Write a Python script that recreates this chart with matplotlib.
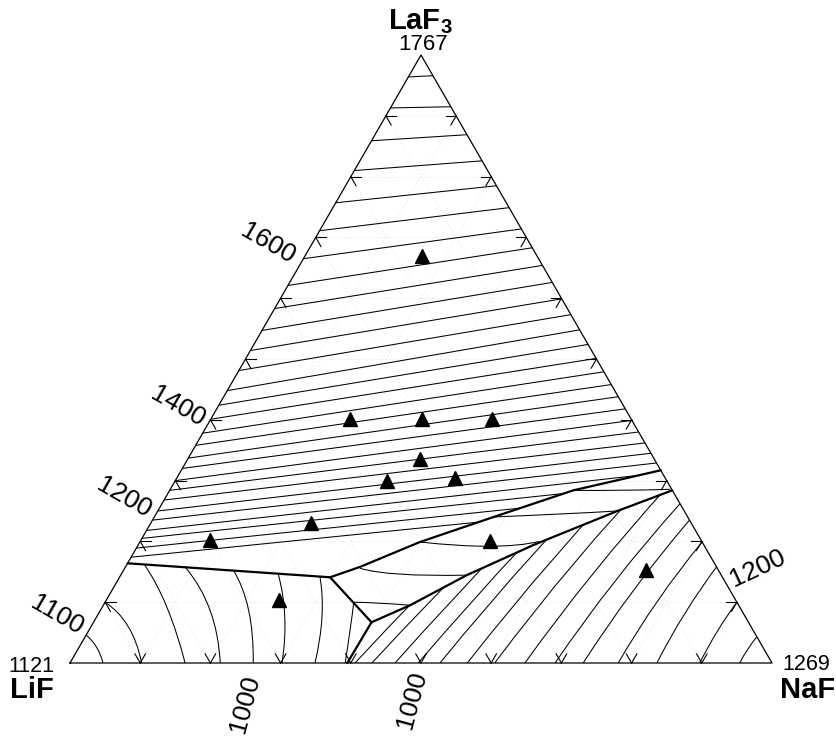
import numpy as np
import matplotlib
matplotlib.use('Agg')
import matplotlib.pyplot as plt
from matplotlib.patches import Polygon, PathPatch
from matplotlib.path import Path

plt.rcParams['font.family'] = ['Liberation Sans', 'DejaVu Sans']
plt.rcParams['mathtext.fontset'] = 'custom'
plt.rcParams['mathtext.bf'] = 'Liberation Sans:bold'
plt.rcParams['mathtext.rm'] = 'Liberation Sans'

S3 = np.sqrt(3) / 2

# all compositions are (x_NaF, x_LaF3), x_LiF = 1 - both
corners = ['LiF', 'NaF', 'LaF$_3$']
corner_temps = [1121, 1269, 1767]

# univariant lines
lif_laf3_line = [(0.0, 0.164), (0.300, 0.141)]
upper_line = [(0.300, 0.141), (0.334, 0.158), (0.399, 0.199), (0.483, 0.240),
              (0.575, 0.284), (0.683, 0.317)]
lif_mid_line = [(0.300, 0.141), (0.396, 0.067)]
lower_line = [(0.396, 0.067), (0.437, 0.095), (0.493, 0.1445), (0.563, 0.194),
              (0.654, 0.2496), (0.716, 0.284)]
lif_naf_line = [(0.396, 0.067), (0.395, 0.0)]

# LaF3 field isotherms: x_LaF3 where each meets the LiF-LaF3 and NaF-LaF3 edges
laf3_left = [0.964, 0.913, 0.859, 0.810, 0.757, 0.711, 0.665, 0.621, 0.583, 0.547,
             0.514, 0.481, 0.448, 0.424, 0.401, 0.378, 0.358, 0.337, 0.320, 0.300,
             0.284, 0.268, 0.250, 0.235, 0.218, 0.205, 0.189, 0.174]
laf3_right = [0.966, 0.915, 0.869, 0.826, 0.785, 0.749, 0.714, 0.683, 0.654, 0.626,
              0.599, 0.573, 0.548, 0.524, 0.501, 0.479, 0.458, 0.438, 0.418, 0.399,
              0.380, 0.362, 0.345, 0.329, 0.313, 0.297, 0.281, 0.265]

# LiF field isotherms: start, middle, end
lif_iso = [
    [(0.0, 0.046), (0.025, 0.026), (0.047, 0.0)],
    [(0.0, 0.100), (0.053, 0.060), (0.102, 0.0)],
    [(0.026, 0.161), (0.092, 0.092), (0.164, 0.0)],
    [(0.085, 0.158), (0.156, 0.087), (0.214, 0.0)],
    [(0.156, 0.153), (0.211, 0.087), (0.261, 0.0)],
    [(0.223, 0.147), (0.268, 0.076), (0.302, 0.0)],
    [(0.285, 0.142), (0.321, 0.076), (0.349, 0.0)],
    [(0.355, 0.098), (0.372, 0.054), (0.392, 0.0)],
]

# middle field isotherms: start, middle, end
mid_iso = [
    [(0.353, 0.100), (0.392, 0.0985), (0.437, 0.095)],
    [(0.335, 0.156), (0.397, 0.146), (0.493, 0.1445)],
    [(0.399, 0.199), (0.502, 0.192), (0.569, 0.200)],
    [(0.478, 0.240), (0.576, 0.245), (0.654, 0.250)],
    [(0.5745, 0.284), (0.6415, 0.284), (0.712, 0.2857)],
]

# NaF field isotherms: x_NaF on the LiF-NaF edge, a middle point, x_LaF3 on the NaF-LaF3 edge
naf_base = [0.954, 0.897, 0.836, 0.781, 0.731, 0.691, 0.648, 0.605, 0.566, 0.527,
            0.496, 0.463, 0.430, 0.406]
naf_mid = [(0.954, 0.023), (0.896, 0.053), (0.835, 0.082), (0.786, 0.103),
           (0.743, 0.121), (0.709, 0.135), (0.672, 0.150), (0.636, 0.165),
           (0.604, 0.177), (0.573, 0.189), (0.550, 0.197), (0.525, 0.205),
           (0.501, 0.213), (0.480, 0.221)]
naf_right = [0.043, 0.100, 0.158, 0.199, 0.235, 0.262, 0.293, 0.321, 0.346, 0.369,
             0.385, 0.402, 0.417, 0.434]

# experimental points
pts_naf = [0.167, 0.198, 0.300, 0.400, 0.331, 0.301, 0.396, 0.228, 0.098, 0.498, 0.744, 0.246]
pts_laf3 = [0.670, 0.402, 0.402, 0.402, 0.335, 0.300, 0.304, 0.231, 0.202, 0.200, 0.153, 0.103]


def cart(pts):
    p = np.asarray(pts, dtype=float)
    return np.column_stack([p[:, 0] + 0.5 * p[:, 1], S3 * p[:, 1]])


fig = plt.figure(figsize=(8.37, 7.36), dpi=100)
ax = fig.add_axes([0, 0, 1, 1])
ax.set_xlim(-70 / 702, 767 / 702)
ax.set_ylim(-73 / 702, 663 / 702)
ax.axis('off')

# faint grid
for k in range(1, 10):
    v = k / 10
    for seg in ([(0, v), (1 - v, v)], [(v, 0), (v, 1 - v)], [(1 - v, 0), (0, 1 - v)]):
        c = cart(seg)
        ax.plot(c[:, 0], c[:, 1], color='#eeeeee', lw=0.7, ls=(0, (2, 2)), zorder=0)

# fields for clipping
laf3_field = [(0.0, 1.0), (0.0, 0.164)] + upper_line
lif_field = [(0.0, 0.0), (0.0, 0.164), (0.300, 0.141), (0.396, 0.067), (0.395, 0.0)]
mid_field = upper_line + lower_line[::-1]
naf_field = [(0.395, 0.0)] + lower_line + [(1.0, 0.0)]


def clip_patch(pts):
    return Polygon(cart(pts), closed=True, transform=ax.transData)


laf3_clip = clip_patch(laf3_field)
lif_clip = clip_patch(lif_field)
mid_clip = clip_patch(mid_field)
naf_clip = clip_patch(naf_field)

iso_kw = dict(color='black', lw=0.75, zorder=2)

for a, b in zip(laf3_left, laf3_right):
    c = cart([(0.0, a), (1.0 - b, b)])
    ln, = ax.plot(c[:, 0], c[:, 1], **iso_kw)
    ln.set_clip_path(laf3_clip)


def curve(p3, clip):
    c = cart(p3)
    ctrl = 2 * c[1] - 0.5 * (c[0] + c[2])
    path = Path([c[0], ctrl, c[2]], [Path.MOVETO, Path.CURVE3, Path.CURVE3])
    pp = PathPatch(path, fill=False, ec='black', lw=0.75, zorder=2)
    ax.add_patch(pp)
    pp.set_clip_path(clip)


for p3 in lif_iso:
    curve(p3, lif_clip)
for p3 in mid_iso:
    curve(p3, mid_clip)
for a, m, b in zip(naf_base, naf_mid, naf_right):
    curve([(a, 0.0), m, (1.0 - b, b)], naf_clip)

# univariant lines
for line in (lif_laf3_line, upper_line, lif_mid_line, lower_line, lif_naf_line):
    c = cart(line)
    ax.plot(c[:, 0], c[:, 1], color='black', lw=1.6, zorder=3, solid_capstyle='round')

# triangle outline
tri = cart([(0, 0), (1, 0), (0, 1), (0, 0)])
ax.plot(tri[:, 0], tri[:, 1], color='black', lw=0.9, zorder=3)

# ticks
d = 0.015
for k in range(1, 10):
    v = k / 10
    for seg in ([(0, v), (d, v)], [(0, v), (d, v - d)],
                [(1 - v, v), (1 - v - d, v)], [(1 - v, v), (1 - v, v - d)],
                [(v, 0), (v, d)], [(v, 0), (v - d, d)]):
        c = cart(seg)
        ax.plot(c[:, 0], c[:, 1], color='black', lw=0.8, zorder=3)

# experimental points
pc = cart(list(zip(pts_naf, pts_laf3)))
ax.plot(pc[:, 0], pc[:, 1], ls='none', marker='^', ms=10, color='black', zorder=5)


# labels (pixel positions of the picture)
def ftext(px, py, s, **kw):
    fig.text(px / 837, 1 - py / 736, s, ha='center', va='center', **kw)


ftext(420, 22, r'$\mathbf{LaF_3}$', fontsize=21)
ftext(423, 45, str(corner_temps[2]), fontsize=16)
ftext(31, 666, str(corner_temps[0]), fontsize=15.5)
ftext(32, 690, corners[0], fontsize=21, fontweight='bold')
ftext(806, 665, str(corner_temps[1]), fontsize=15.5)
ftext(808, 690, corners[1], fontsize=21, fontweight='bold')

ftext(268, 244, '1600', fontsize=19, rotation=-30)
ftext(178, 407, '1400', fontsize=19, rotation=-30)
ftext(124, 498, '1200', fontsize=19, rotation=-30)
ftext(57, 615, '1100', fontsize=19, rotation=-30)
ftext(758, 568, '1200', fontsize=19, rotation=25)
ftext(245, 704, '1000', fontsize=19, rotation=75)
ftext(412, 700, '1000', fontsize=19, rotation=75)

fig.savefig('out.png', dpi=100)
